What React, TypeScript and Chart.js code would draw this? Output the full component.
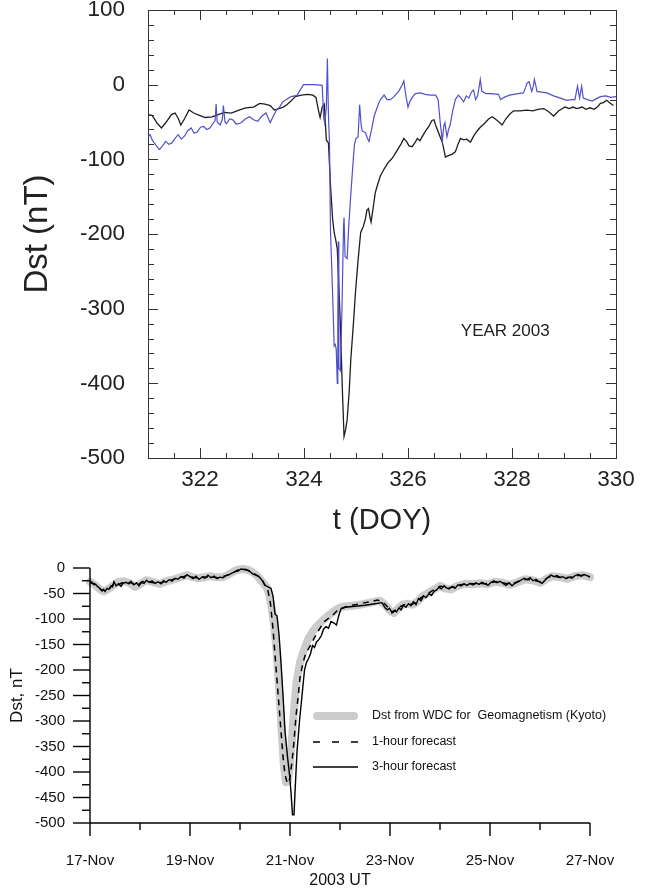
import React, { useEffect, useRef } from "react";
import { Chart, registerables } from "chart.js";

Chart.register(...registerables);

const FONT = "'Liberation Sans', Arial, Helvetica, sans-serif";

// ---------------- Top chart data (DOY 2003) ----------------
const topObsDoy = [
  321.0, 321.08, 321.18, 321.26, 321.35, 321.45, 321.52, 321.58, 321.63, 321.7, 321.79, 321.88, 321.99,
  322.1, 322.23, 322.35, 322.47, 322.6, 322.75, 322.88, 323.03, 323.15, 323.25, 323.35, 323.43, 323.52,
  323.6, 323.67, 323.75, 323.83, 323.95, 324.07, 324.17, 324.23, 324.28, 324.31, 324.35, 324.39, 324.43,
  324.47, 324.51, 324.55, 324.58, 324.61, 324.64, 324.67, 324.7, 324.74, 324.77, 324.8, 324.83, 324.87,
  324.9, 324.95, 324.99, 325.04, 325.09, 325.14, 325.18, 325.21, 325.24, 325.27, 325.29, 325.33, 325.37,
  325.41, 325.47, 325.54, 325.62, 325.68, 325.73, 325.8, 325.87, 325.92, 325.97, 326.02, 326.08, 326.14,
  326.18, 326.23, 326.27, 326.33, 326.4, 326.46, 326.5, 326.53, 326.58, 326.63, 326.66, 326.72, 326.78,
  326.85, 326.91, 326.96, 327.01, 327.07, 327.13, 327.2, 327.27, 327.33, 327.39, 327.47, 327.55, 327.62,
  327.68, 327.75, 327.81, 327.88, 327.95, 328.03, 328.15, 328.29, 328.4, 328.5, 328.61, 328.7, 328.8,
  328.9, 329.02, 329.1, 329.17, 329.25, 329.35, 329.42, 329.5, 329.58, 329.64, 329.7, 329.76, 329.82,
  329.89, 329.95,
];
const topObsDst = [
  -40, -41, -52, -58, -50, -40, -38, -45, -54, -46, -34, -38, -41,
  -44, -43, -40, -37, -38, -34, -31, -30, -25, -26, -28, -34, -32,
  -30, -27, -22, -16, -14, -13, -14, -17, -35, -44, -30, -26, -74,
  -78, -135, -180, -198, -208, -220, -270, -323, -413, -471, -462, -449, -410,
  -368, -320, -278, -235, -198, -190, -180, -168, -166, -178, -184, -165, -145,
  -135, -122, -113, -104, -100, -95, -87, -79, -72, -76, -82, -83, -77,
  -72, -75, -70, -63, -56, -48, -47, -54, -63, -72, -77, -97, -95,
  -93, -90, -80, -72, -74, -73, -77, -68, -62, -57, -52, -46, -43,
  -46, -50, -54, -46, -40, -35, -35, -34, -35, -33, -32, -36, -42,
  -35, -30, -32, -30, -32, -30, -33, -31, -33, -30, -25, -24, -21,
  -25, -28,
];
const topModDoy = [
  321.0, 321.04, 321.08, 321.14, 321.22, 321.28, 321.34, 321.4, 321.46, 321.52, 321.58, 321.64, 321.7,
  321.76, 321.83, 321.89, 321.95, 322.01, 322.07, 322.13, 322.19, 322.25, 322.29, 322.31, 322.33, 322.39,
  322.43, 322.45, 322.48, 322.51, 322.57, 322.63, 322.7, 322.79, 322.87, 322.95, 323.03, 323.11, 323.19,
  323.27, 323.32, 323.35, 323.41, 323.47, 323.53, 323.59, 323.66, 323.75, 323.82, 323.87, 323.92, 323.99,
  324.1, 324.2, 324.35, 324.38, 324.4, 324.43, 324.45, 324.47, 324.49, 324.51, 324.55, 324.58, 324.6,
  324.62, 324.64, 324.65, 324.66, 324.67, 324.7, 324.73, 324.76, 324.77, 324.79, 324.83, 324.86, 324.9,
  324.95, 324.97, 325.0, 325.04, 325.07, 325.1, 325.12, 325.18, 325.22, 325.25, 325.3, 325.35, 325.38,
  325.43, 325.47, 325.54, 325.6, 325.66, 325.73, 325.82, 325.89, 325.92, 325.96, 326.0, 326.04, 326.08,
  326.14, 326.24, 326.33, 326.43, 326.53, 326.58, 326.62, 326.66, 326.69, 326.71, 326.75, 326.78, 326.81,
  326.86, 326.91, 326.97, 327.02, 327.07, 327.12, 327.17, 327.22, 327.26, 327.3, 327.34, 327.39, 327.42,
  327.5, 327.6, 327.74, 327.78, 327.85, 327.95, 328.03, 328.12, 328.22, 328.26, 328.29, 328.33, 328.38,
  328.41, 328.43, 328.46, 328.48, 328.57, 328.67, 328.8, 328.93, 329.05, 329.15, 329.21, 329.26, 329.3,
  329.34, 329.37, 329.45, 329.54, 329.62, 329.7, 329.8, 329.9, 330.0,
];
const topModDst = [
  -70, -67, -74, -80, -87, -82, -76, -80, -78, -72, -67, -73, -69,
  -62, -58, -65, -63, -57, -56, -60, -58, -52, -48, -26, -50, -54,
  -46, -28, -50, -52, -46, -47, -53, -51, -46, -43, -47, -49, -42,
  -38, -46, -51, -42, -34, -30, -23, -20, -16, -15, -14, -8, 0,
  0, 0, -1, -45, -52, -30, 35, -40, -78, -197, -280, -350, -348,
  -354, -400, -320, -210, -380, -383, -300, -190, -178, -230, -233, -190, -147,
  -98, -80, -72, -70, -27, -55, -62, -64, -72, -76, -60, -42, -36,
  -26, -20, -14, -20, -20, -16, -9, 0, 5, -15, -30, -22, -17,
  -12, -11, -13, -14, -14, -20, -51, -75, -55, -51, -70, -60, -54,
  -35, -20, -14, -18, -23, -15, -18, -10, -7, -20, -15, 7, -9,
  -12, -12, -13, -20, -17, -14, -13, -12, -11, -4, 2, 4, -9,
  -2, 7, -2, -9, -10, -11, -15, -18, -21, -20, -20, -2, -18,
  -2, -18, -20, -22, -19, -16, -15, -17, -16,
];
const topXTicks = [322, 324, 326, 328, 330];
const topYTicks = [100, 0, -100, -200, -300, -400, -500];

// ---------------- Bottom chart data (days after 17-Nov-2003 00 UT) ----------------
const kyotoDay = [
  0.0, 0.1, 0.2, 0.28, 0.38, 0.48, 0.58, 0.68, 0.78, 0.9, 1.0, 1.12, 1.25, 1.4, 1.52, 1.62, 1.75, 1.88,
  1.95, 2.05, 2.15, 2.28, 2.4, 2.52, 2.65, 2.75, 2.87, 2.97, 3.07, 3.17, 3.25, 3.33, 3.4, 3.47, 3.53,
  3.58, 3.63, 3.68, 3.72, 3.76, 3.8, 3.84, 3.88, 3.92, 3.96, 4.0, 4.04, 4.08, 4.13, 4.2, 4.28, 4.36,
  4.45, 4.55, 4.65, 4.75, 4.85, 4.95, 5.05, 5.25, 5.45, 5.65, 5.8, 5.9, 6.0, 6.08, 6.16, 6.25, 6.35,
  6.45, 6.55, 6.65, 6.75, 6.88, 7.0, 7.1, 7.22, 7.35, 7.5, 7.65, 7.8, 7.95, 8.1, 8.25, 8.4, 8.55, 8.7,
  8.85, 9.0, 9.12, 9.25, 9.4, 9.55, 9.7, 9.85, 10.0, 10.12, 10.22, 10.3,
];
const kyotoDst = [
  -27, -33, -42, -46, -40, -33, -27, -26, -29, -37, -32, -24, -27, -31, -26, -24, -20, -16,
  -14, -18, -20, -18, -16, -18, -18, -14, -7, -3, -2, -4, -8, -14, -22, -30, -37,
  -50, -75, -110, -150, -205, -260, -330, -390, -420, -418, -385, -335, -280, -225, -185, -160, -140,
  -125, -113, -103, -95, -87, -80, -76, -74, -71, -67, -64, -72, -84, -88, -80, -72, -70,
  -72, -66, -55, -50, -42, -35, -40, -42, -35, -31, -32, -30, -32, -27, -29, -33, -28, -22,
  -24, -29, -22, -16, -18, -21, -16, -14, -18, -17, -13, -14,
];
const fc1Day = [
  0.0, 0.08, 0.16, 0.24, 0.32, 0.4, 0.48, 0.56, 0.64, 0.72, 0.8, 0.88, 0.96, 1.04, 1.12, 1.2, 1.28,
  1.36, 1.44, 1.52, 1.6, 1.68, 1.76, 1.84, 1.92, 2.0, 2.08, 2.16, 2.24, 2.32, 2.4, 2.48, 2.56, 2.64,
  2.72, 2.8, 2.88, 2.96, 3.04, 3.12, 3.2, 3.28, 3.36, 3.44, 3.5, 3.56, 3.61, 3.66, 3.7, 3.74, 3.78,
  3.82, 3.86, 3.9, 3.94, 3.97, 4.0, 4.04, 4.08, 4.12, 4.16, 4.2, 4.25, 4.3, 4.36, 4.42, 4.48, 4.55,
  4.62, 4.7, 4.78, 4.86, 4.94, 5.02, 5.2, 5.4, 5.6, 5.75, 5.85, 5.93, 6.0, 6.06, 6.12, 6.2, 6.28,
  6.36, 6.44, 6.52, 6.6, 6.68, 6.76, 6.84, 6.92, 7.0, 7.08, 7.16, 7.24, 7.32, 7.4, 7.5, 7.6, 7.7,
  7.8, 7.9, 8.0, 8.1, 8.2, 8.3, 8.4, 8.5, 8.6, 8.7, 8.8, 8.9, 9.0, 9.1, 9.2, 9.3, 9.4, 9.5, 9.6,
  9.7, 9.8, 9.9, 10.0, 10.1, 10.2, 10.3,
];
const fc1Dst = [
  -28, -32, -38, -44, -43, -39, -31, -33, -29, -30, -28, -32, -33, -27, -26, -28, -29,
  -28, -29, -25, -24, -22, -19, -18, -15, -16, -19, -19, -17, -18, -16, -18, -19, -17,
  -15, -12, -8, -4, -2, -3, -6, -11, -16, -23, -34, -45, -70, -120, -170, -220, -270,
  -320, -370, -405, -420, -422, -410, -380, -340, -290, -255, -215, -190, -172, -160, -150, -138, -126,
  -115, -104, -98, -92, -84, -79, -74, -70, -66, -63, -66, -74, -82, -87, -82, -76, -72,
  -71, -71, -68, -60, -54, -50, -45, -40, -36, -37, -39, -38, -35, -33, -32, -31, -31,
  -30, -31, -29, -27, -28, -30, -31, -29, -25, -22, -23, -25, -27, -22, -17, -17, -18, -19, -18,
  -16, -14, -15, -17, -16, -14, -14,
];
const fc3Day = [
  0.0, 0.05, 0.1, 0.15, 0.2, 0.24, 0.27, 0.3, 0.34, 0.38, 0.42, 0.45, 0.48, 0.52, 0.57, 0.62, 0.66,
  0.72, 0.78, 0.82, 0.88, 0.93, 0.98, 1.03, 1.08, 1.13, 1.18, 1.24, 1.3, 1.36, 1.42, 1.47, 1.52, 1.58,
  1.64, 1.7, 1.76, 1.82, 1.88, 1.94, 2.0, 2.06, 2.12, 2.18, 2.24, 2.3, 2.36, 2.42, 2.48, 2.54, 2.6,
  2.66, 2.72, 2.78, 2.84, 2.9, 2.96, 3.02, 3.08, 3.14, 3.2, 3.26, 3.32, 3.38, 3.44, 3.5, 3.56, 3.62,
  3.66, 3.7, 3.74, 3.78, 3.82, 3.86, 3.9, 3.95, 3.99, 4.02, 4.05, 4.08, 4.1, 4.14, 4.19, 4.24, 4.29,
  4.33, 4.37, 4.41, 4.45, 4.49, 4.53, 4.58, 4.63, 4.67, 4.72, 4.77, 4.82, 4.88, 4.93, 4.97, 5.02, 5.1,
  5.3, 5.5, 5.7, 5.84, 5.9, 5.95, 5.99, 6.04, 6.08, 6.13, 6.18, 6.22, 6.27, 6.32, 6.37, 6.42, 6.47,
  6.52, 6.57, 6.62, 6.67, 6.72, 6.78, 6.83, 6.88, 6.93, 6.98, 7.03, 7.08, 7.13, 7.18, 7.24, 7.3, 7.36,
  7.42, 7.48, 7.54, 7.6, 7.66, 7.72, 7.78, 7.84, 7.9, 7.96, 8.02, 8.08, 8.14, 8.2, 8.26, 8.32, 8.38,
  8.44, 8.5, 8.56, 8.62, 8.68, 8.74, 8.8, 8.86, 8.92, 8.98, 9.04, 9.1, 9.16, 9.22, 9.28, 9.34, 9.4,
  9.46, 9.52, 9.58, 9.64, 9.7, 9.76, 9.82, 9.88, 9.94, 10.0, 10.06, 10.12, 10.18, 10.24, 10.3,
];
const fc3Dst = [
  -25, -29, -31, -36, -40, -45, -42, -46, -40, -42, -35, -37, -27, -35, -31, -36, -30,
  -28, -31, -26, -33, -29, -35, -28, -30, -24, -28, -25, -30, -27, -31, -25, -28, -23,
  -26, -20, -22, -17, -20, -13, -17, -21, -16, -22, -18, -20, -14, -19, -16, -21, -18,
  -19, -15, -13, -10, -7, -6, -2, -3, -4, -7, -12, -14, -17, -24, -34, -37, -40,
  -55, -90, -94, -130, -185, -250, -320, -370, -405, -440, -484, -484, -440, -360, -300, -250, -200,
  -185, -178, -168, -152, -156, -145, -140, -132, -120, -115, -118, -105, -108, -112, -95, -80, -77,
  -75, -73, -70, -68, -78, -82, -79, -88, -83, -86, -78, -82, -73, -77, -70, -74, -66,
  -72, -60, -64, -55, -58, -50, -54, -46, -43, -38, -41, -35, -39, -41, -36, -40, -33,
  -35, -31, -34, -30, -33, -29, -32, -28, -31, -34, -28, -25, -29, -26, -30, -34, -29,
  -35, -30, -27, -24, -20, -23, -19, -25, -22, -27, -30, -24, -18, -14, -17, -15, -19,
  -17, -21, -18, -20, -15, -13, -16, -13, -15, -18, -16, -19, -15, -13, -14,
];
const dayTickPos = [0, 2, 4, 6, 8, 10];
const dayTickLabels = ["17-Nov", "19-Nov", "21-Nov", "23-Nov", "25-Nov", "27-Nov"];
const bottomYTicks = [0, -50, -100, -150, -200, -250, -300, -350, -400, -450, -500];
const legendLabels = [
  "Dst from WDC for  Geomagnetism (Kyoto)",
  "1-hour forecast",
  "3-hour forecast",
];

const pts = (xs: number[], ys: number[]) => xs.map((x, i) => ({ x, y: ys[i] }));

function seg(ctx: CanvasRenderingContext2D, x1: number, y1: number, x2: number, y2: number) {
  ctx.beginPath();
  ctx.moveTo(x1, y1);
  ctx.lineTo(x2, y2);
  ctx.stroke();
}

function fixWidth(w: number) {
  return (s: any) => {
    s.width = w;
    s.paddingTop = 0;
    s.paddingBottom = 0;
  };
}
function fixHeight(h: number) {
  return (s: any) => {
    s.height = h;
    s.paddingLeft = 0;
    s.paddingRight = 0;
  };
}

const topFrame = {
  id: "topFrame",
  afterDraw(chart: any) {
    const { ctx, chartArea: a, scales } = chart;
    const xs = scales.x;
    const ys = scales.y;
    ctx.save();
    ctx.strokeStyle = "#333";
    ctx.lineWidth = 1;
    ctx.strokeRect(a.left + 0.5, a.top + 0.5, a.right - a.left, a.bottom - a.top);
    for (let i = 0; i <= 18; i++) {
      const v = xs.min + i * 0.5;
      const px = Math.round(xs.getPixelForValue(v)) + 0.5;
      const len = topXTicks.includes(v) ? 10 : 5;
      seg(ctx, px, a.bottom, px, a.bottom - len);
      seg(ctx, px, a.top, px, a.top + len);
    }
    for (let i = 0; i <= 30; i++) {
      const v = ys.min + i * 20;
      const py = Math.round(ys.getPixelForValue(v)) + 0.5;
      const len = topYTicks.includes(v) ? 10 : 6;
      seg(ctx, a.left, py, a.left + len, py);
      seg(ctx, a.right, py, a.right - len, py);
    }
    ctx.fillStyle = "#222";
    ctx.font = `17px ${FONT}`;
    ctx.textAlign = "center";
    ctx.textBaseline = "middle";
    ctx.fillText("YEAR 2003", xs.getPixelForValue(327.87), ys.getPixelForValue(-330));
    ctx.restore();
  },
};

const bottomFrame = {
  id: "bottomFrame",
  afterDraw(chart: any) {
    const { ctx, chartArea: a, scales } = chart;
    const xs = scales.x;
    const ys = scales.y;
    ctx.save();
    ctx.strokeStyle = "#000";
    ctx.lineWidth = 1.4;
    const yb = ys.getPixelForValue(-500);
    const y0 = ys.getPixelForValue(0);
    seg(ctx, a.left, y0, a.left, yb);
    seg(ctx, a.left, yb, xs.getPixelForValue(10), yb);
    for (let i = 0; i <= 20; i++) {
      const v = -i * 25;
      const py = ys.getPixelForValue(v);
      const len = bottomYTicks.includes(v) ? 17 : 8;
      seg(ctx, a.left - len, py, a.left, py);
    }
    for (let d = 0; d <= 10; d++) {
      const px = xs.getPixelForValue(d);
      const len = dayTickPos.includes(d) ? 13 : 7;
      seg(ctx, px, yb, px, yb + len);
    }
    // legend
    const lx1 = 313;
    const lx2 = 358;
    const tx = 372;
    const rows = [176, 202, 227];
    ctx.lineCap = "round";
    ctx.strokeStyle = "#cccccc";
    ctx.lineWidth = 8;
    seg(ctx, lx1 + 4, rows[0], lx2 - 4, rows[0]);
    ctx.lineCap = "butt";
    ctx.strokeStyle = "#000";
    ctx.lineWidth = 1.5;
    ctx.setLineDash([7, 12]);
    seg(ctx, lx1, rows[1], lx2, rows[1]);
    ctx.setLineDash([]);
    seg(ctx, lx1, rows[2], lx2, rows[2]);
    ctx.fillStyle = "#111";
    ctx.font = `12.5px ${FONT}`;
    ctx.textAlign = "left";
    ctx.textBaseline = "middle";
    legendLabels.forEach((t, i) => ctx.fillText(t, tx, rows[i]));
    ctx.restore();
  },
};

function topConfig(): any {
  return {
    type: "line",
    data: {
      datasets: [
        {
          data: pts(topObsDoy, topObsDst),
          borderColor: "#1e1e1e",
          borderWidth: 1.3,
          pointRadius: 0,
          tension: 0,
          order: 2,
        },
        {
          data: pts(topModDoy, topModDst),
          borderColor: "#5050cc",
          borderWidth: 1.2,
          pointRadius: 0,
          tension: 0,
          order: 1,
        },
      ],
    },
    options: {
      animation: false,
      responsive: false,
      maintainAspectRatio: false,
      layout: { padding: { left: 0, right: 31, top: 10, bottom: 0 } },
      plugins: { legend: { display: false }, tooltip: { enabled: false } },
      scales: {
        x: {
          type: "linear",
          min: 321,
          max: 330,
          afterBuildTicks: (s: any) => {
            s.ticks = topXTicks.map((v) => ({ value: v }));
          },
          afterFit: fixHeight(82),
          grid: { display: false, drawTicks: false },
          border: { display: false },
          ticks: {
            autoSkip: false,
            maxRotation: 0,
            padding: 8,
            color: "#222",
            font: { family: FONT, size: 22.5 },
            callback: (v: any) => String(v),
          },
          title: {
            display: true,
            text: "t (DOY)",
            color: "#222",
            font: { family: FONT, size: 29 },
            padding: { top: 0, bottom: 2 },
          },
        },
        y: {
          type: "linear",
          min: -500,
          max: 100,
          afterBuildTicks: (s: any) => {
            s.ticks = topYTicks.map((v) => ({ value: v }));
          },
          afterFit: fixWidth(148),
          grid: { display: false, drawTicks: false },
          border: { display: false },
          ticks: {
            autoSkip: false,
            padding: 23,
            color: "#222",
            font: { family: FONT, size: 22.5 },
            callback: (v: any) => String(v),
          },
          title: {
            display: true,
            text: "Dst (nT)",
            color: "#222",
            font: { family: FONT, size: 33 },
            padding: { top: 18, bottom: 0 },
          },
        },
      },
    },
    plugins: [topFrame],
  };
}

function bottomConfig(): any {
  return {
    type: "line",
    data: {
      datasets: [
        {
          data: pts(kyotoDay, kyotoDst),
          borderColor: "#cccccc",
          borderWidth: 8,
          borderJoinStyle: "round",
          borderCapStyle: "round",
          pointRadius: 0,
          tension: 0,
          clip: false,
          order: 3,
        },
        {
          data: pts(fc1Day, fc1Dst),
          borderColor: "#000",
          borderWidth: 1.5,
          borderDash: [6, 5],
          pointRadius: 0,
          tension: 0,
          clip: false,
          order: 2,
        },
        {
          data: pts(fc3Day, fc3Dst),
          borderColor: "#000",
          borderWidth: 1.4,
          pointRadius: 0,
          tension: 0,
          clip: false,
          order: 1,
        },
      ],
    },
    options: {
      animation: false,
      responsive: false,
      maintainAspectRatio: false,
      layout: { padding: { left: 0, right: 57, top: 28, bottom: 0 } },
      plugins: { legend: { display: false }, tooltip: { enabled: false } },
      scales: {
        x: {
          type: "linear",
          min: 0,
          max: 10,
          afterBuildTicks: (s: any) => {
            s.ticks = dayTickPos.map((v) => ({ value: v }));
          },
          afterFit: fixHeight(71),
          grid: { display: false, drawTicks: false },
          border: { display: false },
          ticks: {
            autoSkip: false,
            maxRotation: 0,
            padding: 29,
            color: "#111",
            font: { family: FONT, size: 15 },
            callback: (v: any) => dayTickLabels[dayTickPos.indexOf(v)],
          },
          title: {
            display: true,
            text: "2003 UT",
            color: "#111",
            font: { family: FONT, size: 16 },
            padding: { top: 0, bottom: 4 },
          },
        },
        y: {
          type: "linear",
          min: -500,
          max: 0,
          afterBuildTicks: (s: any) => {
            s.ticks = bottomYTicks.map((v) => ({ value: v }));
          },
          afterFit: fixWidth(90),
          grid: { display: false, drawTicks: false },
          border: { display: false },
          ticks: {
            autoSkip: false,
            padding: 25,
            color: "#111",
            font: { family: FONT, size: 15 },
            callback: (v: any) => String(v),
          },
          title: {
            display: true,
            text: "Dst, nT",
            color: "#111",
            font: { family: FONT, size: 17 },
            padding: { top: 7, bottom: 0 },
          },
        },
      },
    },
    plugins: [bottomFrame],
  };
}

export default function App() {
  const topRef = useRef<HTMLCanvasElement>(null);
  const botRef = useRef<HTMLCanvasElement>(null);
  useEffect(() => {
    Chart.defaults.font.family = FONT;
    const c1 = new Chart(topRef.current as HTMLCanvasElement, topConfig());
    const c2 = new Chart(botRef.current as HTMLCanvasElement, bottomConfig());
    return () => {
      c1.destroy();
      c2.destroy();
    };
  }, []);
  return (
    <div style={{ position: "absolute", left: 0, top: 0, width: 647, height: 894, background: "#fff" }}>
      <canvas ref={topRef} width={647} height={540} style={{ position: "absolute", left: 0, top: 0 }} />
      <canvas ref={botRef} width={647} height={354} style={{ position: "absolute", left: 0, top: 540 }} />
    </div>
  );
}
